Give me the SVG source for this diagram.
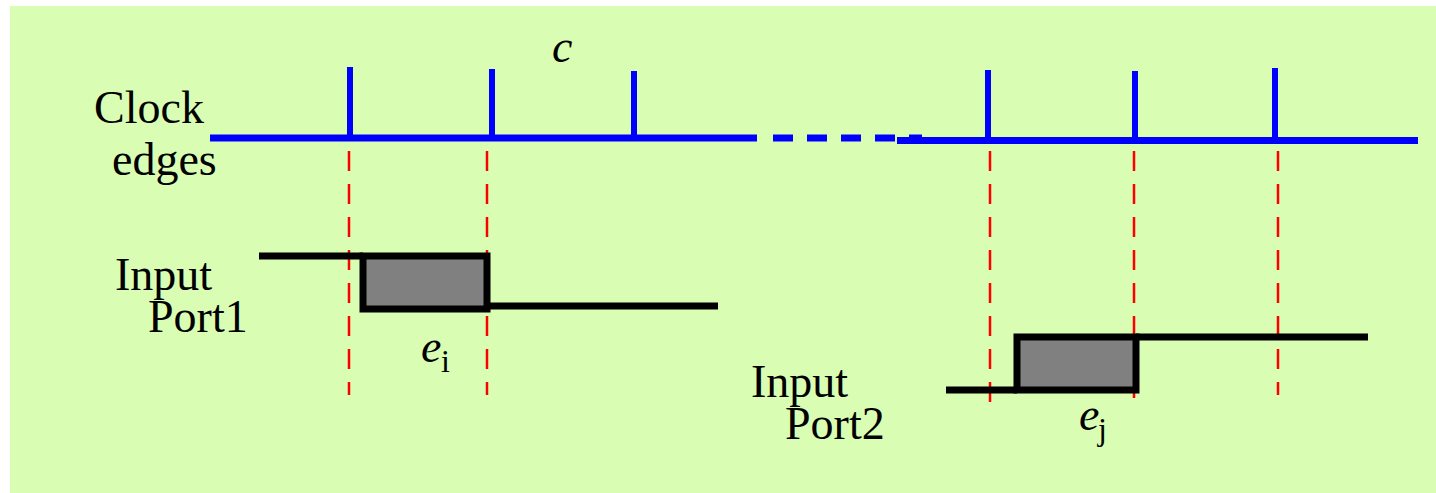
<svg xmlns="http://www.w3.org/2000/svg" width="1436" height="493" viewBox="0 0 1436 493">
<style>
.clk{stroke:#0000ff;stroke-width:7;fill:none}
.tick{stroke:#0000ff;stroke-width:6;fill:none}
.guide{stroke:#ff0000;stroke-width:2.5;stroke-dasharray:20 13;fill:none}
.sig{stroke:#000;stroke-width:7;fill:none}
.pulse{stroke:#000;stroke-width:7;fill:#808080}
.lbl{font-family:"Liberation Serif","Times New Roman",serif;font-size:46px;fill:#000}
.it{font-style:italic}
.sub{font-size:32px}
</style>
<rect x="10" y="6" width="1426" height="487" fill="#d9fdb3"/>
<g id="clock">
<path class="clk" d="M210,138 H757"/>
<path class="clk" d="M773,138 H922" stroke-dasharray="20 14"/>
<path class="clk" d="M897,140.5 H1418"/>
<path class="tick" d="M350,138 V67 M492,138 V69 M634,138 V71 M988,140 V70 M1135,140 V71 M1275,140 V68"/>
<text class="lbl it" x="552" y="62">c</text>
<text class="lbl" x="94" y="123">Clock</text>
<text class="lbl" x="112" y="175">edges</text>
</g>
<g id="guides">
<path class="guide" d="M349,151 V395 M487,151 V395"/>
<path class="guide" d="M990,151 V403 M1134,151 V398 M1278,151 V395"/>
</g>
<g id="port1">
<path class="sig" d="M259,256 H363"/>
<rect class="pulse" x="363" y="256" width="124" height="53"/>
<path class="sig" d="M487,306 H718"/>
<text class="lbl" x="115" y="290">Input</text>
<text class="lbl" x="148" y="332">Port1</text>
<text class="lbl it" x="421" y="362">e</text>
<text class="lbl sub" x="441" y="372">i</text>
</g>
<g id="port2">
<path class="sig" d="M946,390 H1017"/>
<rect class="pulse" x="1017" y="337" width="119" height="53"/>
<path class="sig" d="M1136,337 H1368"/>
<text class="lbl" x="751" y="397">Input</text>
<text class="lbl" x="785" y="439">Port2</text>
<text class="lbl it" x="1079" y="430">e</text>
<text class="lbl sub" x="1098" y="440">j</text>
</g>
</svg>
